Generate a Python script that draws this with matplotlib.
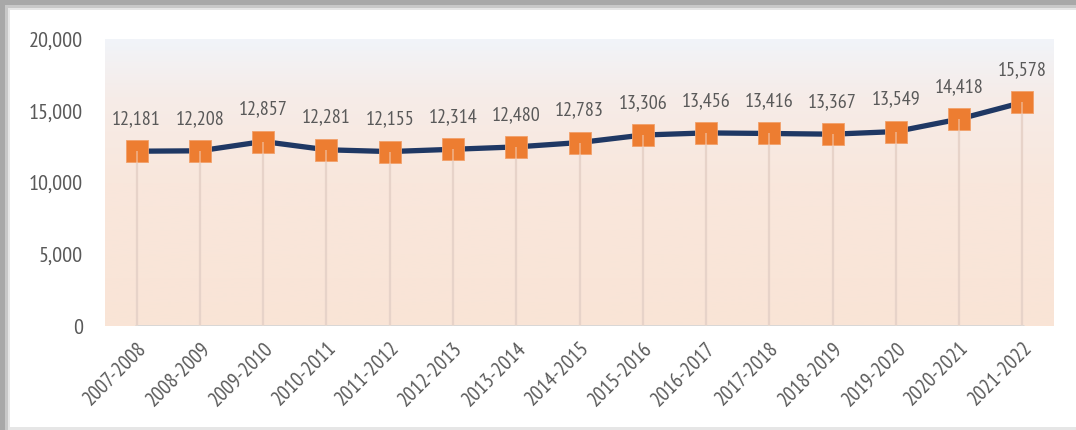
import numpy as np
import matplotlib.pyplot as plt
from matplotlib.colors import LinearSegmentedColormap
from matplotlib.patches import Rectangle

years = ['2007-2008', '2008-2009', '2009-2010', '2010-2011', '2011-2012',
         '2012-2013', '2013-2014', '2014-2015', '2015-2016', '2016-2017',
         '2017-2018', '2018-2019', '2019-2020', '2020-2021', '2021-2022']
values = [12181, 12208, 12857, 12281, 12155, 12314, 12480, 12783,
          13306, 13456, 13416, 13367, 13549, 14418, 15578]
y_ticks = [0, 5000, 10000, 15000, 20000]

TEXT = '#595959'
plt.rcParams['font.family'] = ['PT Sans Narrow', 'DejaVu Sans']

fig = plt.figure(figsize=(10.76, 4.3), dpi=100)
W, H = 1076, 430

# card with soft shadow on left/top
fig.patches.append(Rectangle((0, 0), 1, 1, transform=fig.transFigure,
                             facecolor='#a8a8a8', edgecolor='none', zorder=-4))
fig.patches.append(Rectangle((5 / W, 0), 1, 1 - 5 / H, transform=fig.transFigure,
                             facecolor='#c8c8c8', edgecolor='none', zorder=-3))
fig.patches.append(Rectangle((8 / W, 0), 1, 1 - 8 / H, transform=fig.transFigure,
                             facecolor='#e6e6e6', edgecolor='none', zorder=-2))
fig.patches.append(Rectangle((10 / W, 3 / H), 1, 1 - 13 / H, transform=fig.transFigure,
                             facecolor='white', edgecolor='none', zorder=-1))

ax = fig.add_axes([105 / W, 1 - 326 / H, 949 / W, 287 / H])
ax.set_facecolor('none')

# gradient background of the plot area
cmap = LinearSegmentedColormap.from_list(
    'bg', [(0, '#f9e4d6'), (0.5, '#f9e7dc'), (0.8, '#f6ece8'), (1, '#f1f4f9')])
grad = np.linspace(0, 1, 256).reshape(-1, 1)
ax.imshow(grad, cmap=cmap, aspect='auto', origin='lower',
          extent=[0, 1, 0, 1], transform=ax.transAxes, zorder=0)

x = np.arange(len(years))
ax.vlines(x, 0, values, color='#dfcdc5', linewidth=1.6, zorder=1)
ax.hlines(0, x[0] - 0.03, x[-1] + 0.03, color='#d6d6d6', linewidth=2, zorder=1)
ax.plot(x, values, color='#1f3864', linewidth=3.8, zorder=2)
ax.plot(x, values, linestyle='none', marker='s', markersize=16.5,
        markerfacecolor='#ed7d31', markeredgecolor='#f2a06a', markeredgewidth=0.6, zorder=3)
# drop line shows faintly through the markers
ax.vlines(x, 0, values, color='#f3dccf', linewidth=1.4, alpha=0.45, zorder=4)

for xi, v in zip(x, values):
    ax.annotate(f'{v:,}', (xi, v), xytext=(0, 19.5), textcoords='offset points',
                ha='center', va='baseline', fontsize=14.5, color=TEXT)

ax.set_xlim(-0.5, len(years) - 0.5)
ax.set_ylim(0, 20000)
ax.set_yticks(y_ticks)
ax.set_yticklabels([f'{t:,}' for t in y_ticks])
ax.set_xticks(x)
ax.set_xticklabels(years, rotation=45, ha='right', rotation_mode='anchor')
ax.tick_params(axis='both', length=0, colors=TEXT)
ax.tick_params(axis='y', pad=16, labelsize=16)
ax.tick_params(axis='x', pad=9, labelsize=15)
for s in ax.spines.values():
    s.set_visible(False)

fig.savefig('out.png', dpi=100)
